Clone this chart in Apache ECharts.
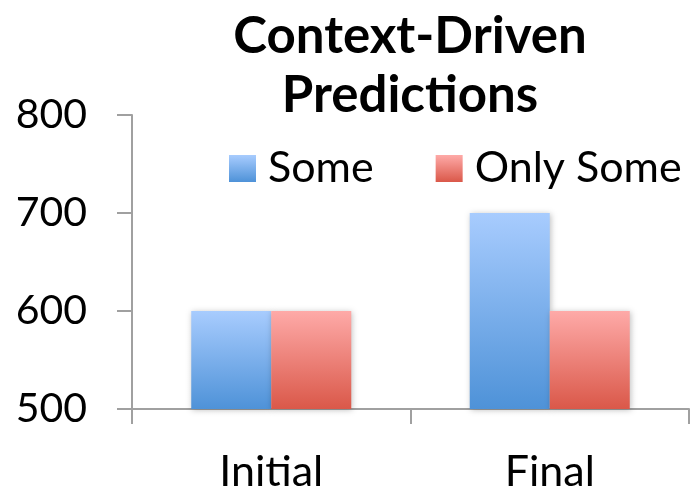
<!DOCTYPE html>
<html><head><meta charset="utf-8">
<script src="https://cdn.jsdelivr.net/npm/echarts@6/dist/echarts.min.js"></script>
<style>html,body{margin:0;padding:0;background:#fff}#c{width:690px;height:494px}</style>
</head><body><div id="c"></div>
<script>
const categories = ['Initial', 'Final'];
const someValues = [600, 700];
const onlySomeValues = [600, 600];
const seriesNames = ['Some', 'Only Some'];
const yTicks = [500, 600, 700, 800];

const FONT = 'Lato, "Open Sans", sans-serif';
const grad = (top, bottom) => new echarts.graphic.LinearGradient(0, 0, 0, 1, [
  { offset: 0, color: top }, { offset: 1, color: bottom }
]);
const blue = grad('#A8CCFE', '#4E92D8');
const red = grad('#FEAAA8', '#DA5849');

const chart = echarts.init(document.getElementById('c'), null, { renderer: 'canvas' });
chart.setOption({
  animation: false,
  backgroundColor: '#fff',
  title: {
    text: 'Context-Driven\nPredictions',
    left: 405, top: 2, textAlign: 'center',
    textStyle: { fontFamily: FONT, fontWeight: 'bold', fontSize: 51, lineHeight: 59, color: '#000' }
  },
  legend: {
    data: seriesNames,
    left: 229, top: 147, padding: 0,
    itemWidth: 27, itemHeight: 27, itemGap: 62,
    icon: 'rect',
    textStyle: { fontFamily: FONT, fontSize: 43, color: '#000', padding: [0, 0, 0, 7] }
  },
  grid: { left: 132, right: 1, top: 115, bottom: 85, containLabel: false },
  xAxis: {
    type: 'category', data: categories,
    axisLine: { lineStyle: { color: '#A0A0A0', width: 2 } },
    axisTick: { show: true, length: 15, lineStyle: { color: '#A0A0A0', width: 2 } },
    axisLabel: { fontFamily: FONT, fontSize: 43, color: '#000', margin: 42 }
  },
  yAxis: {
    type: 'value', min: yTicks[0], max: yTicks[yTicks.length - 1], interval: 100,
    axisLine: { show: true, lineStyle: { color: '#A0A0A0', width: 2 } },
    axisTick: { show: true, length: 15, lineStyle: { color: '#A0A0A0', width: 2 } },
    splitLine: { show: false },
    axisLabel: { fontFamily: FONT, fontSize: 41, color: '#000', margin: 45 }
  },
  series: [
    {
      name: seriesNames[0], type: 'bar', data: someValues, barWidth: 80, barGap: '0%',
      itemStyle: { color: blue, shadowColor: 'rgba(0,0,0,0.25)', shadowBlur: 6, shadowOffsetX: 1, shadowOffsetY: 1 }
    },
    {
      name: seriesNames[1], type: 'bar', data: onlySomeValues, barWidth: 80, barGap: '0%',
      itemStyle: { color: red, shadowColor: 'rgba(0,0,0,0.25)', shadowBlur: 6, shadowOffsetX: 1, shadowOffsetY: 1 }
    }
  ]
});
</script></body></html>
